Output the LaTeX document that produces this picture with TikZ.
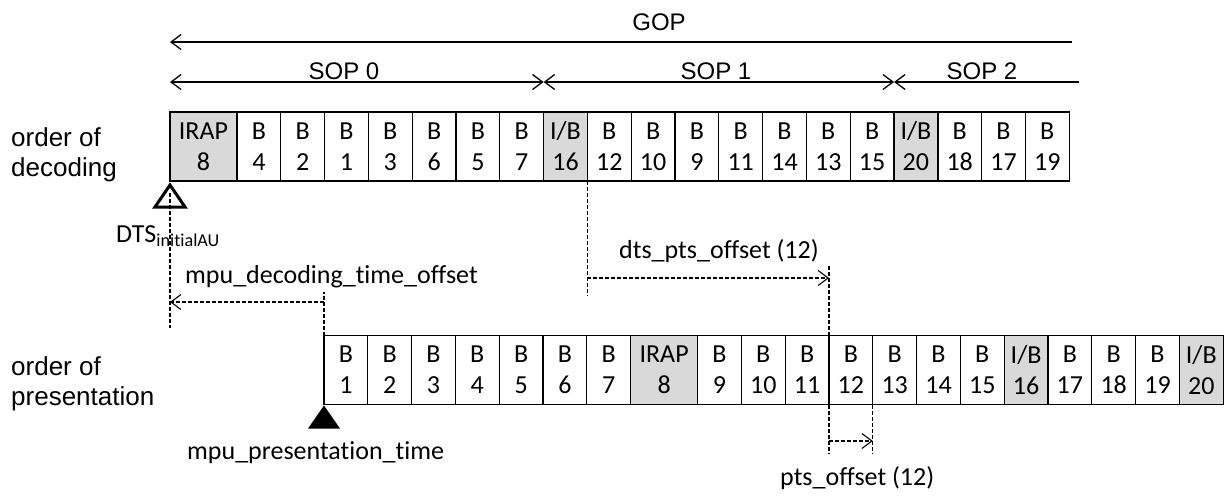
\documentclass[tikz,border=0pt]{standalone}
\usepackage{fontspec}
\setmainfont{Carlito}[Ligatures=NoCommon]
\newfontfamily\arialfont{Liberation Sans}
\usetikzlibrary{arrows.meta}

\begin{document}
\begin{tikzpicture}[x=1pt, y=-1pt,
  >={Straight Barb[length=10pt, width=15pt]},
  cell/.style={draw, line width=1.2pt, anchor=west, outer sep=0pt, inner sep=0pt,
    minimum width=43.8pt, minimum height=69pt, align=center, font=\fontsize{26}{31}\selectfont},
  wide/.style={cell, minimum width=67pt},
  keyframe/.style={fill=black!15},
  note/.style={inner sep=0pt, anchor=base west, font=\fontsize{26}{31}\selectfont},
  rowname/.style={inner sep=0pt, anchor=north west, align=left, font=\arialfont\fontsize{26}{30}\selectfont},
  spanname/.style={inner sep=0pt, font=\arialfont\fontsize{24}{28}\selectfont},
  span/.style={line width=1.3pt},
  gap/.style={line width=1.1pt, dash pattern=on 4pt off 2pt}]
\useasboundingbox (0,0) rectangle (1226,499);

% row names
\node[rowname] at (11,127) (decname) {order of\\decoding};
\node[rowname] at (11,356) (prename) {order of\\presentation};

% decoding order
\node[wide, keyframe] at (170,146.5) (dec8) {IRAP\\8};
\node[cell] at (237,146.5) (dec4) {B\\4};
\node[cell] at (280.8,146.5) (dec2) {B\\2};
\node[cell] at (324.6,146.5) (dec1) {B\\1};
\node[cell] at (368.4,146.5) (dec3) {B\\3};
\node[cell] at (412.2,146.5) (dec6) {B\\6};
\node[cell] at (456,146.5) (dec5) {B\\5};
\node[cell] at (499.8,146.5) (dec7) {B\\7};
\node[cell, keyframe] at (543.6,146.5) (dec16) {I/B\\16};
\node[cell] at (587.4,146.5) (dec12) {B\\12};
\node[cell] at (631.2,146.5) (dec10) {B\\10};
\node[cell] at (675,146.5) (dec9) {B\\9};
\node[cell] at (718.8,146.5) (dec11) {B\\11};
\node[cell] at (762.6,146.5) (dec14) {B\\14};
\node[cell] at (806.4,146.5) (dec13) {B\\13};
\node[cell] at (850.2,146.5) (dec15) {B\\15};
\node[cell, keyframe] at (894,146.5) (dec20) {I/B\\20};
\node[cell] at (937.8,146.5) (dec18) {B\\18};
\node[cell] at (981.6,146.5) (dec17) {B\\17};
\node[cell] at (1025.4,146.5) (dec19) {B\\19};
\draw[line width=2.6pt] (dec18.north west) -- (dec18.south west);

% presentation order
\node[cell] at (324,370) (pre1) {B\\1};
\node[cell] at (367.8,370) (pre2) {B\\2};
\node[cell] at (411.6,370) (pre3) {B\\3};
\node[cell] at (455.4,370) (pre4) {B\\4};
\node[cell] at (499.2,370) (pre5) {B\\5};
\node[cell] at (543,370) (pre6) {B\\6};
\node[cell] at (586.8,370) (pre7) {B\\7};
\node[wide, keyframe] at (630.6,370) (pre8) {IRAP\\8};
\node[cell] at (697.6,370) (pre9) {B\\9};
\node[cell] at (741.4,370) (pre10) {B\\10};
\node[cell] at (785.2,370) (pre11) {B\\11};
\node[cell] at (829,370) (pre12) {B\\12};
\node[cell] at (872.8,370) (pre13) {B\\13};
\node[cell] at (916.6,370) (pre14) {B\\14};
\node[cell] at (960.4,370) (pre15) {B\\15};
\node[cell, keyframe] at (1004.2,370) (pre16) {I/B\\16};
\node[cell] at (1048,370) (pre17) {B\\17};
\node[cell] at (1091.8,370) (pre18) {B\\18};
\node[cell] at (1135.6,370) (pre19) {B\\19};
\node[cell, keyframe] at (1179.4,370) (pre20) {I/B\\20};

% GOP and SOP spans
\coordinate (gopline) at (0,42);
\coordinate (sopline) at (0,82);
\coordinate (gopend) at (1072,42);
\coordinate (sopend) at (1079,82);
\node[spanname] at (659,22) (gop) {GOP};
\node[spanname] at (344,71) (sop0) {SOP 0};
\node[spanname] at (716,71) (sop1) {SOP 1};
\node[spanname] at (982,71) (sop2) {SOP 2};
\draw[span, <-] (dec8.west |- gopline) -- (gopend);
\draw[span, <->] (dec8.west |- sopline) -- (dec16.west |- sopline);
\draw[span, <->] (dec16.west |- sopline) -- (dec20.west |- sopline);
\draw[span, <-] (dec20.west |- sopline) -- (sopend);

% DTS of the first access unit
\coordinate (dtsend) at (170,328);
\draw[gap] ([yshift=-12pt]dec8.south west) -- (dtsend);
\draw[line width=3pt] ([yshift=-4pt]dec8.south west) -- ++(-15,22) -- ++(30,0) -- cycle;
\node[note] at (116,242) (dts) {DTS\textsubscript{initialAU}};

% mpu_decoding_time_offset
\coordinate (mdline) at (0,302);
\coordinate (mdtop) at (324,292);
\draw[gap] (pre1.north west) -- (mdtop);
\draw[gap, ->] (pre1.west |- mdline) -- (dec8.west |- mdline);
\node[note] at (185,283) (mdto) {mpu\_decoding\_time\_offset};

% dts_pts_offset of B 12
\coordinate (dpline) at (0,278);
\coordinate (dpbot) at (587.4,296);
\coordinate (dptop) at (829,266);
\draw[gap] (dec12.south west) -- (dpbot);
\draw[gap] (dptop) -- (pre12.north west);
\draw[gap, ->] (dec12.west |- dpline) -- (pre12.west |- dpline);
\node[note] at (619,258) (dpto) {dts\_pts\_offset (12)};

% pts_offset of B 12
\coordinate (ptline) at (0,441);
\coordinate (ptbotA) at (829,454);
\coordinate (ptbotB) at (872.8,454);
\draw[gap] (pre12.south west) -- (ptbotA);
\draw[gap] (pre13.south west) -- (ptbotB);
\draw[gap, ->] (pre12.west |- ptline) -- (pre13.west |- ptline);
\node[note] at (780,485) (pto) {pts\_offset (12)};

% presentation time of the MPU
\fill ([yshift=-1pt]pre1.south west) -- ++(-16,23) -- ++(32,0) -- cycle;
\node[note] at (187,459) (mpt) {mpu\_presentation\_time};
\end{tikzpicture}
\end{document}
